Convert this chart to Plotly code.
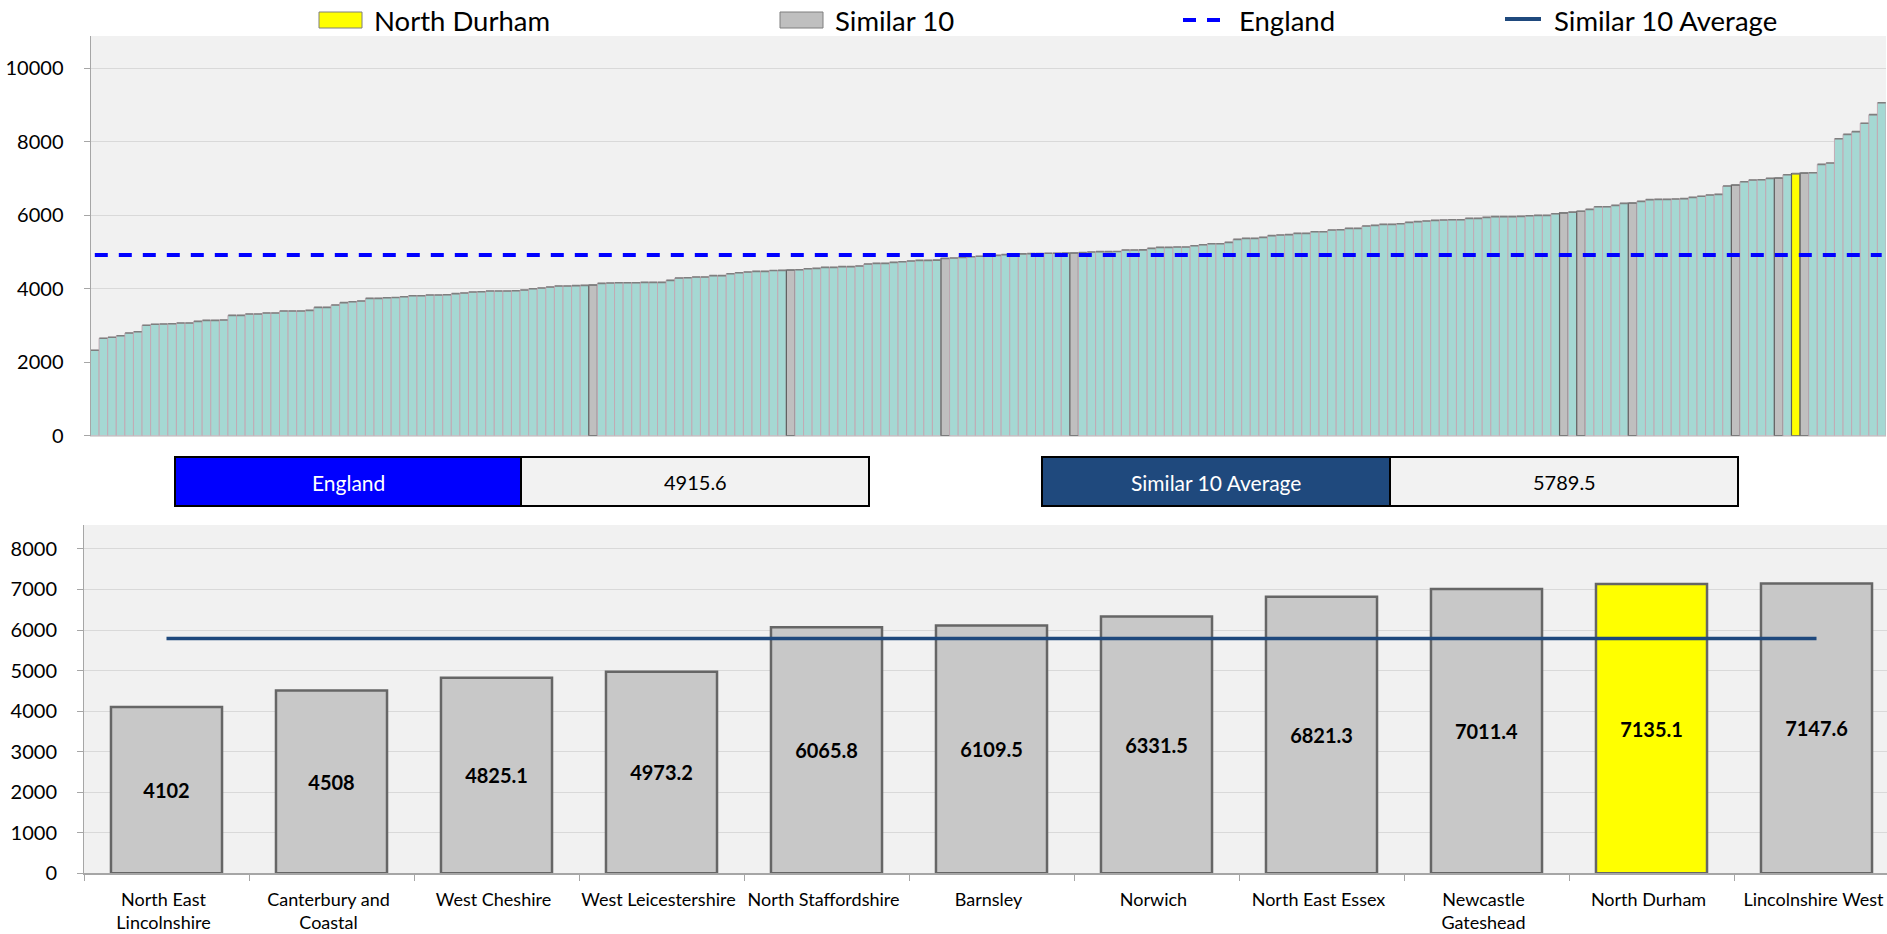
import plotly.graph_objects as go

W, H = 1887, 934

# ---------------- data ----------------
# All areas, sorted ascending (top chart)
top_values = [
    2324, 2651, 2678, 2722, 2795, 2831, 3005, 3032, 3040, 3049,
    3067, 3067, 3113, 3140, 3140, 3149, 3276, 3276, 3312, 3312,
    3340, 3340, 3394, 3394, 3394, 3412, 3494, 3494, 3558, 3621,
    3648, 3666, 3739, 3739, 3757, 3760, 3784, 3811, 3811, 3829,
    3829, 3838, 3866, 3884, 3911, 3920, 3938, 3938, 3938, 3947,
    3966, 4002, 4020, 4047, 4075, 4075, 4085, 4093, 4102, 4147,
    4156, 4165, 4165, 4165, 4174, 4174, 4174, 4229, 4292, 4301,
    4320, 4320, 4356, 4356, 4410, 4437, 4456, 4474, 4474, 4495,
    4500, 4508, 4519, 4546, 4555, 4583, 4583, 4601, 4601, 4620,
    4674, 4692, 4692, 4719, 4737, 4756, 4773, 4773, 4780, 4825.1,
    4837, 4855, 4873, 4885, 4905, 4909, 4930, 4945, 4950, 4955,
    4960, 4965, 4968, 4970, 4973.2, 4985, 5000, 5010, 5010, 5015,
    5055, 5055, 5058, 5100, 5127, 5127, 5136, 5136, 5172, 5199,
    5227, 5227, 5263, 5345, 5372, 5372, 5399, 5445, 5463, 5472,
    5508, 5508, 5553, 5553, 5599, 5608, 5644, 5644, 5708, 5726,
    5753, 5753, 5771, 5808, 5826, 5844, 5862, 5871, 5880, 5880,
    5916, 5916, 5944, 5962, 5962, 5962, 5971, 5989, 5998, 5998,
    6043, 6065.8, 6085, 6109.5, 6161, 6234, 6234, 6270, 6325, 6331.5,
    6379, 6425, 6434, 6434, 6443, 6452, 6488, 6516, 6552, 6570,
    6796, 6821.3, 6914, 6960, 6969, 7005, 7011.4, 7105, 7135.1, 7147.6,
    7159, 7386, 7423, 8085, 8203, 8276, 8503, 8739, 9065,
]

# Similar 10 + North Durham (bottom chart)
bottom_names = [
    "North East<br>Lincolnshire", "Canterbury and<br>Coastal", "West Cheshire",
    "West Leicestershire", "North Staffordshire", "Barnsley", "Norwich",
    "North East Essex", "Newcastle<br>Gateshead", "North Durham", "Lincolnshire West",
]
bottom_values = [4102, 4508, 4825.1, 4973.2, 6065.8, 6109.5, 6331.5,
                 6821.3, 7011.4, 7135.1, 7147.6]
highlight_name = "North Durham"
highlight_value = 7135.1

england_value = 4915.6
similar_avg = 5789.5

top_yticks = [0, 2000, 4000, 6000, 8000, 10000]
bottom_yticks = [0, 1000, 2000, 3000, 4000, 5000, 6000, 7000, 8000]

# ---------------- styles ----------------
FONT = "Lato, 'Open Sans', sans-serif"
TEAL = "#A5D8D3"
TEAL_EDGE = "#C2AAB4"
GREY = "#BFBFBF"
GREY_EDGE = "#5F5F5F"
YELLOW = "#FFFF00"
NAVY = "#1F497D"
BLUE = "#0000FF"
BG = "#F1F1F1"
GRID = "#D9D9D9"


def px_x(x):
    return x / W


def px_y(y):
    return 1 - y / H


similar_set = set(v for v, n in zip(bottom_values, bottom_names) if n != highlight_name)
fills, edges, edge_w = [], [], []
for v in top_values:
    if v == highlight_value:
        fills.append(YELLOW); edges.append(GREY_EDGE); edge_w.append(1.2)
    elif v in similar_set:
        fills.append(GREY); edges.append(GREY_EDGE); edge_w.append(1.2)
    else:
        fills.append(TEAL); edges.append(TEAL_EDGE); edge_w.append(1)

N = len(top_values)
xs = list(range(N))

fig = go.Figure()

fig.add_trace(go.Bar(
    x=xs, y=top_values, width=1, xaxis="x", yaxis="y",
    marker=dict(color=fills, line=dict(color=edges, width=edge_w)),
    error_y=dict(type="data", array=[0] * N, visible=True, width=4,
                 thickness=1.6, color="#7F7F7F"),
    name="All", showlegend=False,
))
fig.add_trace(go.Scatter(
    x=xs, y=[england_value] * N, mode="lines", xaxis="x", yaxis="y",
    line=dict(color=BLUE, width=4, dash="13px,11px"),
    name="England", showlegend=False,
))

bottom_fill = [YELLOW if n == highlight_name else "#C8C8C8" for n in bottom_names]
fig.add_trace(go.Bar(
    x=bottom_names, y=bottom_values, width=0.673, xaxis="x2", yaxis="y2",
    marker=dict(color=bottom_fill, line=dict(color="#666666", width=2.5)),
    text=[f"{v:g}" for v in bottom_values], textposition="inside",
    insidetextanchor="middle", textangle=0,
    textfont=dict(family=FONT, size=20, color="black", weight="bold"),
    name="Similar 10", showlegend=False,
))
fig.add_trace(go.Scatter(
    x=bottom_names, y=[similar_avg] * len(bottom_names), mode="lines",
    xaxis="x2", yaxis="y2", line=dict(color=NAVY, width=3.5),
    name="Similar 10 Average", showlegend=False,
))

tick_font = dict(family=FONT, size=20, color="black")

fig.update_layout(
    width=W, height=H, margin=dict(l=0, r=0, t=0, b=0, autoexpand=False),
    paper_bgcolor="white", plot_bgcolor=BG, showlegend=False,
    font=dict(family=FONT, color="black"),
    xaxis=dict(domain=[px_x(90.5), px_x(1886)], range=[-0.5, N - 0.5],
               showticklabels=False, ticks="", showgrid=False, zeroline=False,
               showline=True, linecolor=GRID, linewidth=1, anchor="y",
               automargin=False),
    yaxis=dict(domain=[px_y(435.7), px_y(36)], range=[0, 10880],
               tickvals=top_yticks, tickformat="d", tickfont=tick_font, showgrid=True,
               gridcolor=GRID, gridwidth=1, zeroline=False, showline=True,
               linecolor="#A6A6A6", linewidth=1, ticks="outside", ticklen=6,
               tickcolor="#A6A6A6", ticklabelstandoff=16, anchor="x",
               automargin=False),
    xaxis2=dict(domain=[px_x(84), 1.0], range=[-0.5, -0.5 + (W - 84) / 165.0],
                type="category", tickfont=dict(family=FONT, size=18, color="black"),
                tickangle=0, ticks="outside", tickson="boundaries", ticklen=6,
                tickcolor="#A6A6A6", showgrid=False, zeroline=False, showline=True,
                linecolor="#A6A6A6", linewidth=1.5, anchor="y2",
                ticklabelstandoff=9, ticklabelshift=-3, automargin=False),
    yaxis2=dict(domain=[px_y(873.3), px_y(525)], range=[0, 8590],
                tickvals=bottom_yticks, tickformat="d", tickfont=tick_font, showgrid=True,
                gridcolor=GRID, gridwidth=1, zeroline=False, showline=True,
                linecolor="#A6A6A6", linewidth=1, ticks="outside", ticklen=6,
                tickcolor="#A6A6A6", ticklabelstandoff=16, anchor="x2",
                automargin=False),
)

shapes = []
annotations = []


def rect(x0, x1, y0, y1, fill, line_color, lw):
    shapes.append(dict(type="rect", xref="paper", yref="paper",
                       x0=px_x(x0), x1=px_x(x1), y0=px_y(y1), y1=px_y(y0),
                       fillcolor=fill, line=dict(color=line_color, width=lw),
                       layer="above"))


def label(x, y, text, size, color="black", anchor="left"):
    annotations.append(dict(xref="paper", yref="paper", x=px_x(x), y=px_y(y),
                            text=text, showarrow=False, xanchor=anchor,
                            yanchor="middle",
                            font=dict(family=FONT, size=size, color=color)))


# custom legend
rect(319, 362, 12, 28, YELLOW, "#7F7F7F", 1)
label(372, 20, highlight_name, 27.5)
rect(780, 823, 12, 28, GREY, "#7F7F7F", 1)
label(833, 20, "Similar 10", 27.5)
shapes.append(dict(type="line", xref="paper", yref="paper",
                   x0=px_x(1183), x1=px_x(1221), y0=px_y(20), y1=px_y(20),
                   line=dict(color=BLUE, width=4, dash="13px,11px")))
label(1237, 20, "England", 27.5)
shapes.append(dict(type="line", xref="paper", yref="paper",
                   x0=px_x(1505), x1=px_x(1541), y0=px_y(19), y1=px_y(19),
                   line=dict(color=NAVY, width=4)))
label(1552, 20, "Similar 10 Average", 27.5)

# info boxes
rect(175, 521, 457, 506, BLUE, "black", 2)
label(348, 482, "England", 21, "white", "center")
rect(521, 869, 457, 506, "#F2F2F2", "black", 2)
label(695, 482, f"{england_value}", 20, "black", "center")
rect(1042, 1390, 457, 506, NAVY, "black", 2)
label(1216, 482, "Similar 10 Average", 21, "white", "center")
rect(1390, 1738, 457, 506, "#F2F2F2", "black", 2)
label(1564, 482, f"{similar_avg}", 20, "black", "center")

fig.update_layout(shapes=shapes, annotations=annotations)

# remove the browser's default 8px body margin so the figure fills the window
fig.write_html("out.html", config={"displayModeBar": False},
               post_script="document.body.style.margin='0';document.body.style.overflow='hidden';")
